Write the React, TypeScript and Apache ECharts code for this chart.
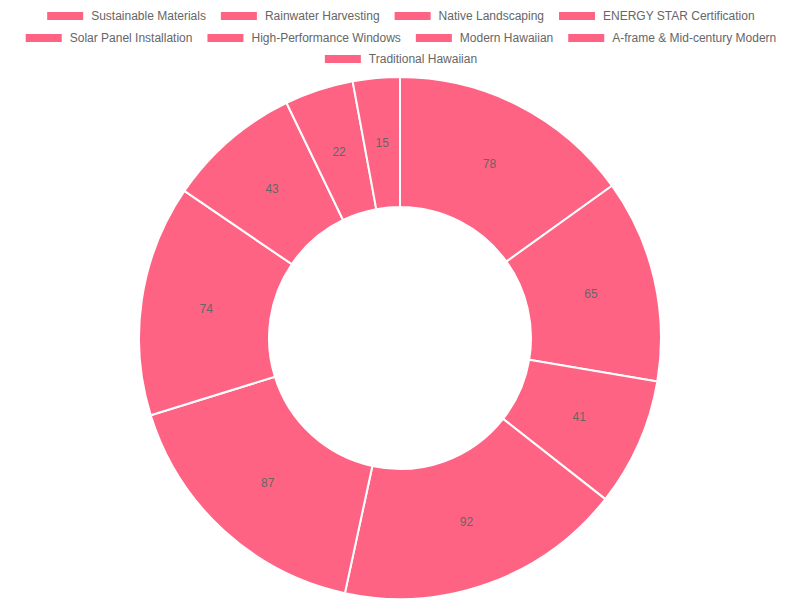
import React, { useEffect, useRef } from "react";
import * as echarts from "echarts";

const categories = [
  "Sustainable Materials",
  "Rainwater Harvesting",
  "Native Landscaping",
  "ENERGY STAR Certification",
  "Solar Panel Installation",
  "High-Performance Windows",
  "Modern Hawaiian",
  "A-frame & Mid-century Modern",
  "Traditional Hawaiian",
];
const values = [78, 65, 41, 92, 87, 74, 43, 22, 15];
const legendRows = [
  categories.slice(0, 4),
  categories.slice(4, 8),
  categories.slice(8),
];

const COLOR = "#ff6384";
const FONT = "'Liberation Sans', Arial, Helvetica, sans-serif";

export default function App() {
  const ref = useRef<HTMLDivElement>(null);
  useEffect(() => {
    if (!ref.current) return;
    const chart = echarts.init(ref.current, undefined, { renderer: "svg" });
    const rowTops = [2, 24, 45];
    const data = categories.map((name, i) => ({ name, value: values[i] }));
    chart.setOption({
      animation: false,
      legend: legendRows.map((row, i) => ({
        top: rowTops[i],
        left: "center",
        padding: 0,
        itemWidth: 38,
        itemHeight: 10,
        itemGap: 13,
        icon: "rect",
        selectedMode: false,
        textStyle: {
          fontSize: 12,
          color: "#666",
          fontFamily: FONT,
          padding: [0, 0, 0, 2],
        },
        data: row,
      })),
      series: [
        {
          type: "pie",
          center: [392, 330],
          radius: [131, 261],
          startAngle: 90,
          clockwise: true,
          color: [COLOR],
          itemStyle: { color: COLOR, borderColor: "#fff", borderWidth: 2 },
          label: { show: false },
          labelLine: { show: false },
          emphasis: { disabled: true },
          data,
        },
        {
          type: "pie",
          center: [392, 330],
          radius: [125, 261],
          startAngle: 90,
          clockwise: true,
          silent: true,
          itemStyle: { color: "rgba(0,0,0,0)", borderWidth: 0 },
          label: {
            show: true,
            position: "inside",
            formatter: "{c}",
            color: "#666",
            fontSize: 12,
            fontFamily: FONT,
          },
          labelLine: { show: false },
          emphasis: { disabled: true },
          data,
        },
      ],
    });
    return () => chart.dispose();
  }, []);
  return <div ref={ref} style={{ width: 784, height: 592 }} />;
}
